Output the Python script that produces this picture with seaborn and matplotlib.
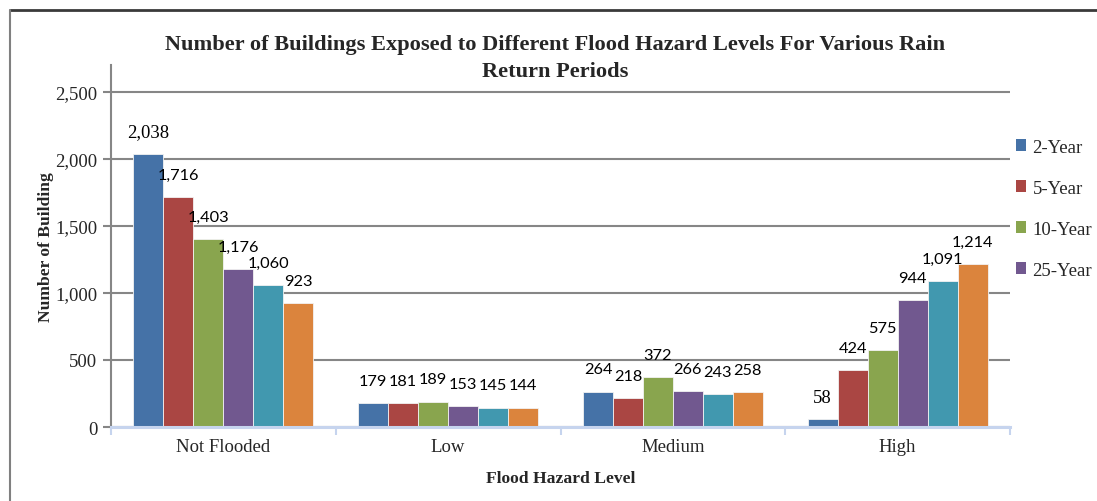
import matplotlib
matplotlib.use("Agg")
import matplotlib.pyplot as plt
from matplotlib.lines import Line2D
from matplotlib.patches import Patch
from matplotlib.ticker import FuncFormatter, FixedLocator
import seaborn as sns
import pandas as pd

# Flood hazard categories and building counts per rain return period
hazard_levels = ["Not Flooded", "Low", "Medium", "High"]
periods = ["2-Year", "5-Year", "10-Year", "25-Year", "50-Year", "100-Year"]
counts_2yr = [2038, 179, 264, 58]
counts_5yr = [1716, 181, 218, 424]
counts_10yr = [1403, 189, 372, 575]
counts_25yr = [1176, 153, 266, 944]
counts_50yr = [1060, 145, 243, 1091]
counts_100yr = [923, 144, 258, 1214]
y_ticks = [0, 500, 1000, 1500, 2000, 2500]

colors = ["#4572A7", "#AA4643", "#89A54E", "#71588F", "#4198AF", "#DB843D"]

series = [counts_2yr, counts_5yr, counts_10yr, counts_25yr, counts_50yr, counts_100yr]
rows = []
for period, vals in zip(periods, series):
    for level, v in zip(hazard_levels, vals):
        rows.append({"level": level, "period": period, "count": v})
df = pd.DataFrame(rows)

sns.set_style("white")
serif = ["Liberation Serif", "DejaVu Serif"]
plt.rcParams["font.family"] = serif

fig = plt.figure(figsize=(10.97, 5.02), dpi=100)
ax = fig.add_axes([0.1012, 0.1474, 0.8195, 0.7211])

sns.barplot(data=df, x="level", y="count", hue="period", order=hazard_levels,
            hue_order=periods, palette=colors, width=0.8, saturation=1,
            edgecolor="#F2F2F2", linewidth=0.6, legend=False, ax=ax)

# value labels above each bar
for container, period in zip(ax.containers, periods):
    for bar in container:
        h = bar.get_height()
        txt = f"{int(round(h)):,}"
        use_serif = txt in ("2,038", "58")
        ax.annotate(txt, (bar.get_x() + bar.get_width() / 2, h),
                    xytext=(0, 16), textcoords="offset points",
                    ha="center", va="center",
                    fontsize=13.5 if use_serif else 11.8,
                    family=serif if use_serif else ["Lato", "DejaVu Sans"],
                    color="black")

ax.set_ylim(0, 2700)
ax.set_xlim(-0.5, 3.5)
ax.yaxis.set_major_locator(FixedLocator(y_ticks))
ax.yaxis.set_major_formatter(FuncFormatter(lambda v, p: f"{int(v):,}"))
ax.grid(axis="y", color="#868686", linewidth=1.5)
ax.set_axisbelow(True)

for s in ("top", "right"):
    ax.spines[s].set_visible(False)
ax.spines["left"].set_color("#868686")
ax.spines["left"].set_linewidth(1.5)
ax.spines["bottom"].set_color("#C6D4EE")
ax.spines["bottom"].set_linewidth(2.2)

ax.tick_params(axis="y", direction="out", length=6, width=1.5, color="#868686",
               labelsize=13.5, pad=4, left=True)
ax.tick_params(axis="x", which="major", length=0, labelsize=13.5, pad=8)
ax.set_xticks([-0.5, 0.5, 1.5, 2.5, 3.5], minor=True)
ax.tick_params(axis="x", which="minor", direction="out", length=6, width=1.5,
               color="#C6D4EE", bottom=True)

ax.set_xlabel("Flood Hazard Level", fontsize=12.6, fontweight="bold", labelpad=11)
ax.set_ylabel("Number of Building", fontsize=12.6, fontweight="bold", labelpad=1)

fig.text(0.506, 0.883,
         "Number of Buildings Exposed to Different Flood Hazard Levels For Various Rain\nReturn Periods",
         ha="center", va="center", fontsize=16.1, fontweight="bold", linespacing=1.45)

handles = [Patch(facecolor=c, edgecolor="none") for c in colors[:4]]
fig.legend(handles, periods[:4], loc="upper left", bbox_to_anchor=(0.919, 0.737),
           frameon=False, fontsize=13.5, handlelength=0.55, handleheight=0.55,
           handletextpad=0.35, labelspacing=1.28, borderaxespad=0)

# outer chart frame
fig.add_artist(Line2D([0.0091, 1.0], [0.979, 0.979], transform=fig.transFigure,
                      color="#3A3A3A", linewidth=2))
fig.add_artist(Line2D([0.0091, 0.0091], [0.0, 0.979], transform=fig.transFigure,
                      color="#808080", linewidth=1.5))

fig.savefig("out.png", dpi=100)
